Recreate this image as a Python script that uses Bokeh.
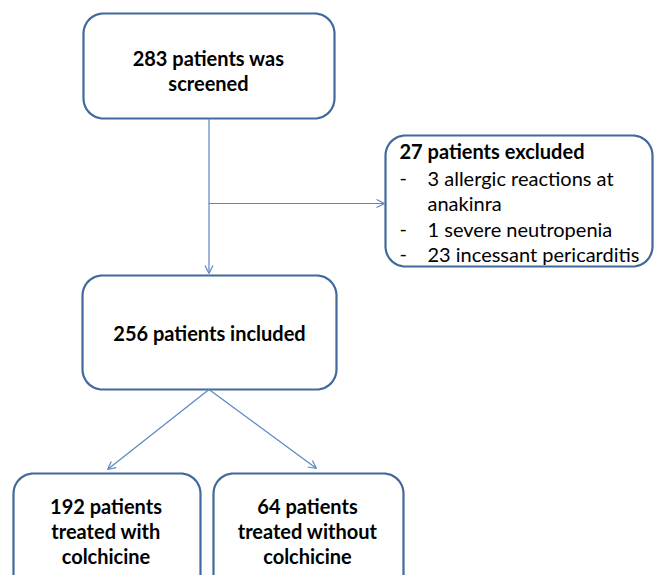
import numpy as np
from bokeh.plotting import figure
from bokeh.models import Range1d, Arrow, OpenHead, ColumnDataSource
from bokeh.core.properties import value
from bokeh.embed import file_html
from bokeh.resources import INLINE

# ---- data ----
screened = 283
excluded_counts = [3, 1, 23]
excluded_reasons = ["allergic reactions at\nanakinra", "severe neutropenia", "incessant pericarditis"]
included = 256
group_counts = [192, 64]
group_labels = ["treated with\ncolchicine", "treated without\ncolchicine"]

# ---- layout (screen-like coordinates, y downward) ----
BOX_SCREEN = (83, 13, 334, 118)
BOX_EXCL = (385, 135, 652, 266)
BOX_INCL = (82, 275, 336, 389)
BOX_G = [(13, 473, 200, 600), (213, 473, 403, 600)]

BORDER = "#41699b"
CONN = "#5b86c0"
FONT = value("Lato")
FS = "20px"

W, H = 654, 575
p = figure(width=W, height=H, x_range=Range1d(0, W), y_range=Range1d(H, 0),
           output_backend="svg", toolbar_location=None, min_border=0,
           outline_line_color=None, background_fill_color="white")
p.axis.visible = False
p.grid.visible = False


def rrect(b, r=20, n=12):
    x0, y0, x1, y1 = b
    xs, ys = [], []
    for cx, cy, a0 in [(x0 + r, y0 + r, 180), (x1 - r, y0 + r, 270),
                       (x1 - r, y1 - r, 0), (x0 + r, y1 - r, 90)]:
        t = np.radians(np.linspace(a0, a0 + 90, n))
        xs += list(cx + r * np.cos(t))
        ys += list(cy + r * np.sin(t))
    return xs, ys


boxes = [BOX_SCREEN, BOX_EXCL, BOX_INCL] + BOX_G
pxs, pys = zip(*[rrect(b) for b in boxes])
p.patches(list(pxs), list(pys), fill_color="white", line_color=BORDER, line_width=2.2)

# connectors
def arrow(x0, y0, x1, y1):
    p.add_layout(Arrow(x_start=x0, y_start=y0, x_end=x1, y_end=y1, line_color=CONN,
                       line_width=1.2, end=OpenHead(size=8, line_color=CONN, line_width=1.2)))

cx = (BOX_SCREEN[0] + BOX_SCREEN[2]) / 2
arrow(cx, BOX_SCREEN[3], cx, BOX_INCL[1] - 2)
arrow(cx, 203, BOX_EXCL[0] - 1, 203)
arrow(cx, BOX_INCL[3], 107, 469)
arrow(cx, BOX_INCL[3], 316, 468)

# centered bold texts
lines_x, lines_y, lines_t = [], [], []
def center_block(lines, x, y, dy=27):
    y0 = y - dy * (len(lines) - 1) / 2
    for i, t in enumerate(lines):
        lines_x.append(x)
        lines_y.append(y0 + i * dy)
        lines_t.append(t)

center_block([f"{screened} patients was", "screened"], 208, 70, dy=25)
center_block([f"{included} patients included"], 209, 332)
for (b, n, lab) in zip(BOX_G, group_counts, group_labels):
    center_block([f"{n} patients"] + lab.split("\n"), (b[0] + b[2]) / 2 - 1, 530, dy=25)

src = ColumnDataSource(dict(x=lines_x, y=lines_y, t=lines_t))
p.text("x", "y", text="t", source=src, text_font=FONT, text_font_style="bold",
       text_font_size=FS, text_align="center", text_baseline="middle", text_color="black")

# excluded box
p.text([399], [150], text=[f"{sum(excluded_counts)} patients excluded"], text_font=FONT,
       text_font_style="bold", text_font_size=FS, text_baseline="middle", text_color="black")
ex_x, ex_y, ex_t, d_y = [], [], [], []
yy = 177
for n, r in zip(excluded_counts, excluded_reasons):
    parts = r.split("\n")
    d_y.append(yy)
    ex_x.append(427); ex_y.append(yy); ex_t.append(f"{n} {parts[0]}")
    yy += 25.5
    for extra in parts[1:]:
        ex_x.append(427); ex_y.append(yy); ex_t.append(extra)
        yy += 25.5
p.text(ex_x, ex_y, text=ex_t, text_font=FONT, text_font_size=FS,
       text_baseline="middle", text_color="black")
p.text([399] * len(d_y), d_y, text=["-"] * len(d_y), text_font=FONT, text_font_size=FS,
       text_baseline="middle", text_color="black")

open("out.html", "w").write(file_html(p, INLINE))
